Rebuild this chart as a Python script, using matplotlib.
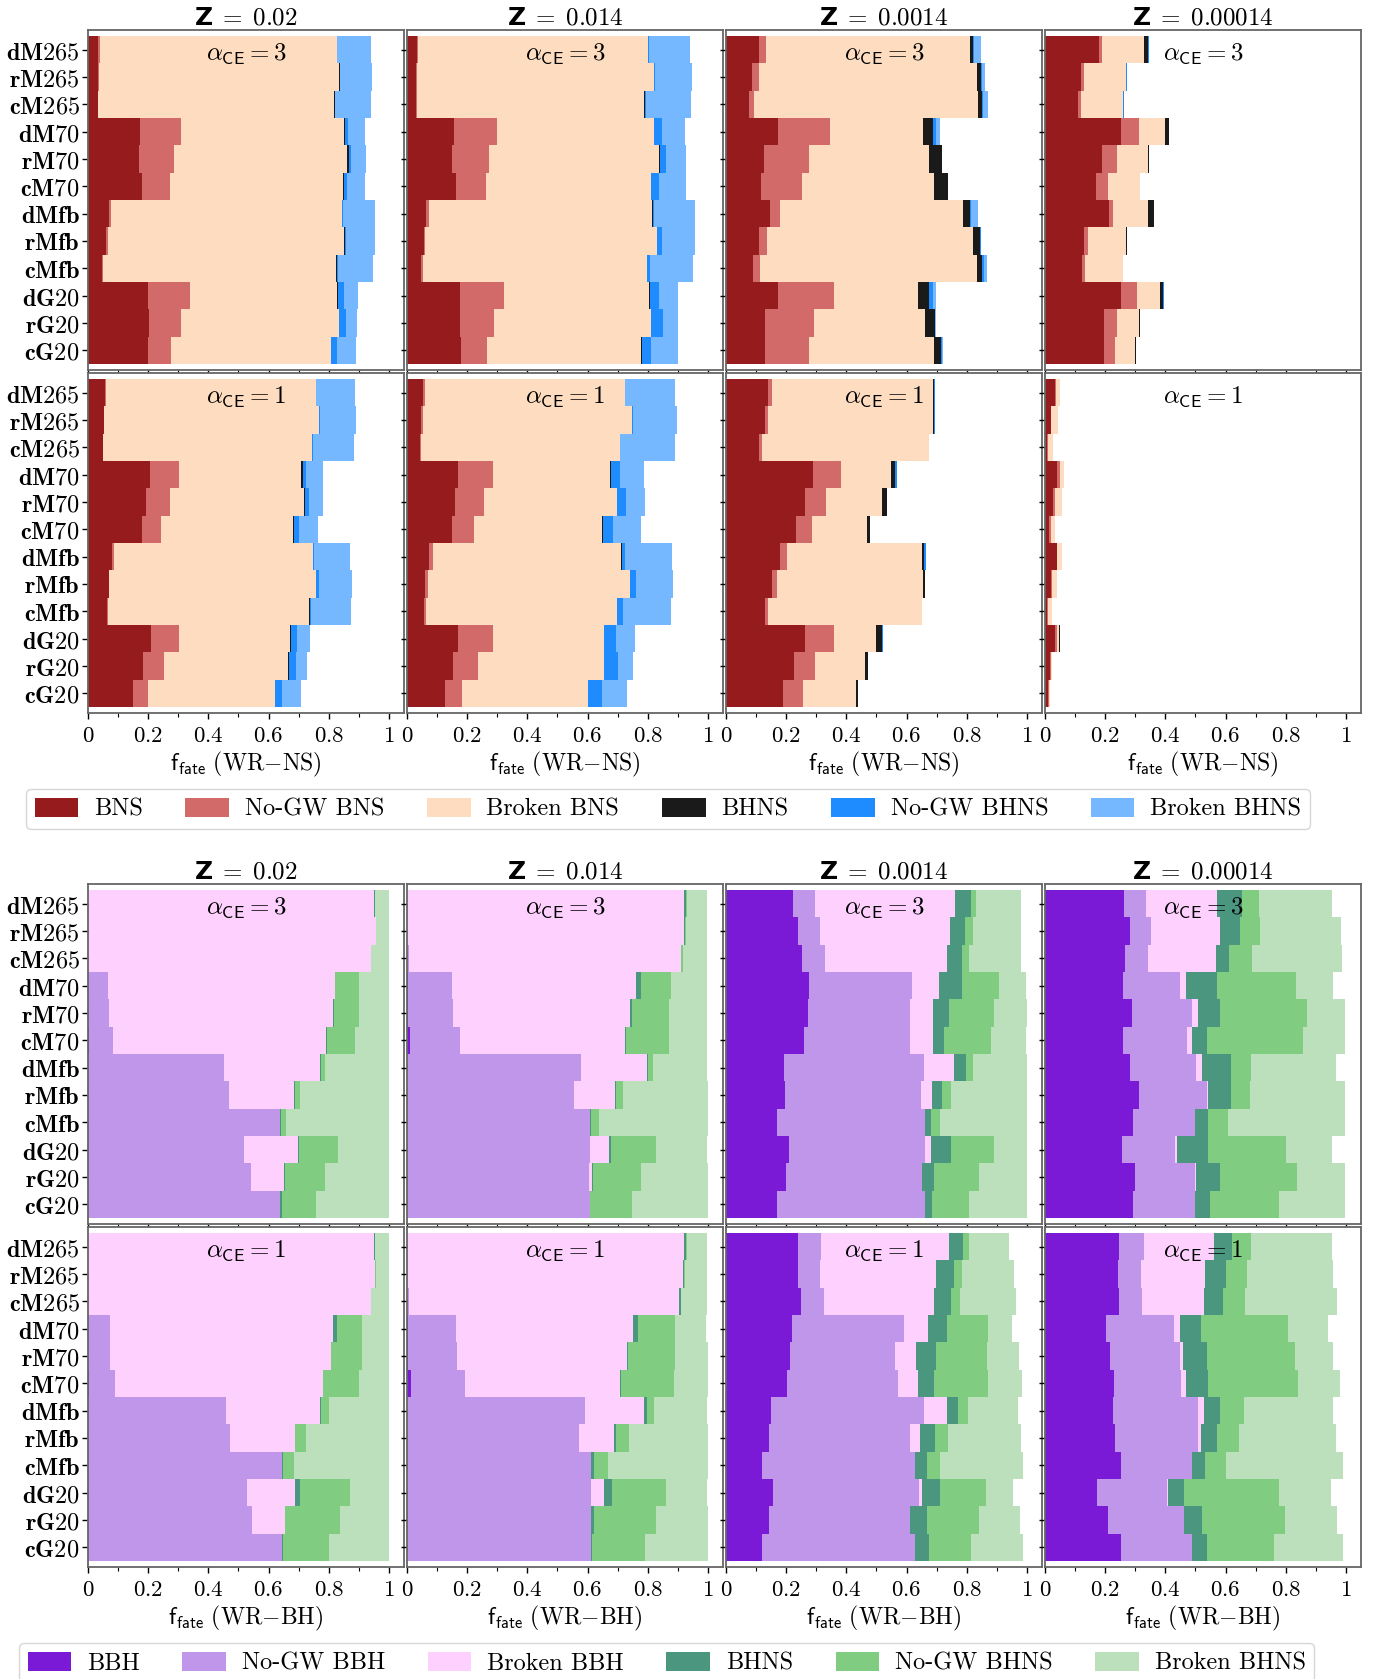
import numpy as np
import matplotlib
matplotlib.use('Agg')
import matplotlib.pyplot as plt
from matplotlib.patches import Patch

plt.rcParams['mathtext.fontset'] = 'cm'

models = ['dM265', 'rM265', 'cM265', 'dM70', 'rM70', 'cM70',
          'dMfb', 'rMfb', 'cMfb', 'dG20', 'rG20', 'cG20']
metallicities = ['0.02', '0.014', '0.0014', '0.00014']
alphas_ce = [3, 1]

ns_fates = ['BNS', 'No-GW BNS', 'Broken BNS', 'BHNS', 'No-GW BHNS', 'Broken BHNS']
bh_fates = ['BBH', 'No-GW BBH', 'Broken BBH', 'BHNS', 'No-GW BHNS', 'Broken BHNS']
ns_colors = ['#961b1c', '#d36a6a', '#fddcc0', '#1a1a1a', '#1e8cff', '#75b8ff']
bh_colors = ['#7a1ad6', '#c096eb', '#fdd0fd', '#4a967e', '#80cc80', '#bbe0bb']

# cumulative fraction of WR-NS systems up to each fate (rows follow models)
ns_z02_ce3 = [[0.033, 0.039, 0.826, 0.826, 0.826, 0.941],
              [0.033, 0.036, 0.834, 0.838, 0.839, 0.944],
              [0.032, 0.034, 0.819, 0.822, 0.822, 0.941],
              [0.172, 0.308, 0.852, 0.853, 0.864, 0.921],
              [0.169, 0.286, 0.862, 0.866, 0.874, 0.924],
              [0.179, 0.271, 0.848, 0.850, 0.861, 0.921],
              [0.070, 0.078, 0.843, 0.844, 0.846, 0.954],
              [0.060, 0.066, 0.852, 0.853, 0.856, 0.954],
              [0.047, 0.051, 0.823, 0.826, 0.830, 0.946],
              [0.199, 0.339, 0.829, 0.830, 0.849, 0.898],
              [0.202, 0.309, 0.833, 0.834, 0.856, 0.894],
              [0.199, 0.276, 0.806, 0.808, 0.829, 0.890]]
ns_z02_ce1 = [[0.057, 0.059, 0.756, 0.756, 0.757, 0.888],
              [0.052, 0.053, 0.769, 0.769, 0.770, 0.891],
              [0.049, 0.051, 0.743, 0.743, 0.747, 0.884],
              [0.206, 0.304, 0.709, 0.713, 0.723, 0.781],
              [0.192, 0.271, 0.719, 0.720, 0.733, 0.781],
              [0.179, 0.241, 0.682, 0.686, 0.702, 0.764],
              [0.079, 0.088, 0.747, 0.747, 0.750, 0.871],
              [0.069, 0.071, 0.759, 0.759, 0.767, 0.878],
              [0.062, 0.066, 0.733, 0.738, 0.742, 0.874],
              [0.209, 0.304, 0.672, 0.673, 0.696, 0.738],
              [0.182, 0.251, 0.666, 0.667, 0.692, 0.728],
              [0.150, 0.198, 0.622, 0.623, 0.645, 0.708]]
ns_z014_ce3 = [[0.033, 0.038, 0.800, 0.801, 0.803, 0.941],
               [0.031, 0.034, 0.822, 0.822, 0.823, 0.948],
               [0.030, 0.034, 0.789, 0.792, 0.793, 0.944],
               [0.156, 0.298, 0.820, 0.822, 0.846, 0.924],
               [0.149, 0.272, 0.839, 0.840, 0.862, 0.928],
               [0.163, 0.262, 0.812, 0.812, 0.839, 0.928],
               [0.063, 0.074, 0.813, 0.816, 0.821, 0.956],
               [0.056, 0.061, 0.832, 0.832, 0.846, 0.958],
               [0.047, 0.052, 0.796, 0.797, 0.809, 0.949],
               [0.176, 0.322, 0.803, 0.806, 0.836, 0.902],
               [0.176, 0.289, 0.812, 0.812, 0.852, 0.902],
               [0.179, 0.266, 0.779, 0.781, 0.812, 0.900]]
ns_z014_ce1 = [[0.053, 0.059, 0.723, 0.723, 0.724, 0.892],
               [0.047, 0.052, 0.749, 0.749, 0.750, 0.898],
               [0.042, 0.048, 0.707, 0.708, 0.709, 0.889],
               [0.169, 0.286, 0.673, 0.677, 0.707, 0.789],
               [0.160, 0.256, 0.697, 0.697, 0.727, 0.792],
               [0.150, 0.222, 0.647, 0.650, 0.686, 0.776],
               [0.073, 0.086, 0.712, 0.716, 0.726, 0.879],
               [0.060, 0.069, 0.740, 0.742, 0.760, 0.884],
               [0.057, 0.062, 0.697, 0.699, 0.719, 0.878],
               [0.169, 0.286, 0.653, 0.653, 0.693, 0.758],
               [0.152, 0.236, 0.656, 0.656, 0.702, 0.751],
               [0.126, 0.184, 0.600, 0.602, 0.647, 0.731]]
ns_z0014_ce3 = [[0.111, 0.133, 0.811, 0.821, 0.824, 0.847],
                [0.088, 0.110, 0.833, 0.847, 0.849, 0.860],
                [0.078, 0.093, 0.837, 0.850, 0.853, 0.869],
                [0.174, 0.347, 0.653, 0.687, 0.697, 0.710],
                [0.127, 0.277, 0.673, 0.717, 0.719, 0.719],
                [0.117, 0.253, 0.690, 0.736, 0.739, 0.739],
                [0.147, 0.180, 0.787, 0.810, 0.813, 0.836],
                [0.108, 0.137, 0.820, 0.843, 0.846, 0.848],
                [0.091, 0.113, 0.833, 0.852, 0.858, 0.866],
                [0.174, 0.360, 0.637, 0.673, 0.687, 0.698],
                [0.130, 0.293, 0.660, 0.693, 0.694, 0.697],
                [0.130, 0.277, 0.690, 0.713, 0.717, 0.722]]
ns_z0014_ce1 = [[0.141, 0.154, 0.688, 0.692, 0.694, 0.694],
                [0.128, 0.140, 0.688, 0.692, 0.694, 0.694],
                [0.108, 0.120, 0.673, 0.676, 0.676, 0.676],
                [0.288, 0.383, 0.548, 0.563, 0.568, 0.568],
                [0.264, 0.333, 0.518, 0.536, 0.536, 0.536],
                [0.231, 0.287, 0.467, 0.477, 0.477, 0.477],
                [0.181, 0.203, 0.651, 0.659, 0.666, 0.666],
                [0.154, 0.170, 0.653, 0.662, 0.662, 0.662],
                [0.128, 0.140, 0.650, 0.652, 0.652, 0.652],
                [0.261, 0.358, 0.500, 0.518, 0.523, 0.523],
                [0.227, 0.297, 0.463, 0.472, 0.472, 0.472],
                [0.190, 0.257, 0.433, 0.437, 0.437, 0.437]]
ns_z00014_ce3 = [[0.181, 0.190, 0.330, 0.343, 0.347, 0.347],
                 [0.121, 0.128, 0.270, 0.270, 0.272, 0.272],
                 [0.111, 0.120, 0.260, 0.260, 0.262, 0.262],
                 [0.251, 0.313, 0.400, 0.412, 0.412, 0.412],
                 [0.191, 0.240, 0.343, 0.347, 0.347, 0.347],
                 [0.171, 0.210, 0.317, 0.317, 0.317, 0.317],
                 [0.211, 0.227, 0.343, 0.363, 0.363, 0.363],
                 [0.131, 0.143, 0.268, 0.271, 0.271, 0.271],
                 [0.124, 0.133, 0.260, 0.260, 0.260, 0.260],
                 [0.251, 0.307, 0.383, 0.393, 0.396, 0.396],
                 [0.197, 0.240, 0.313, 0.316, 0.316, 0.316],
                 [0.197, 0.234, 0.300, 0.301, 0.301, 0.301]]
ns_z00014_ce1 = [[0.033, 0.037, 0.050, 0.050, 0.050, 0.050],
                 [0.020, 0.021, 0.043, 0.043, 0.043, 0.043],
                 [0.008, 0.010, 0.027, 0.027, 0.027, 0.027],
                 [0.040, 0.050, 0.063, 0.063, 0.063, 0.063],
                 [0.028, 0.033, 0.057, 0.057, 0.057, 0.057],
                 [0.014, 0.020, 0.033, 0.033, 0.033, 0.033],
                 [0.040, 0.041, 0.057, 0.057, 0.057, 0.057],
                 [0.020, 0.023, 0.040, 0.040, 0.040, 0.040],
                 [0.008, 0.010, 0.023, 0.023, 0.023, 0.023],
                 [0.033, 0.040, 0.048, 0.049, 0.049, 0.050],
                 [0.017, 0.020, 0.023, 0.023, 0.023, 0.023],
                 [0.010, 0.013, 0.018, 0.018, 0.018, 0.018]]

# cumulative fraction of WR-BH systems up to each fate
bh_z02_ce3 = [[0.000, 0.000, 0.950, 0.952, 0.953, 0.999],
              [0.000, 0.000, 0.956, 0.956, 0.957, 0.999],
              [0.000, 0.000, 0.939, 0.940, 0.942, 0.999],
              [0.001, 0.066, 0.820, 0.822, 0.899, 0.999],
              [0.001, 0.069, 0.813, 0.816, 0.899, 0.999],
              [0.003, 0.082, 0.792, 0.793, 0.886, 0.999],
              [0.000, 0.452, 0.772, 0.773, 0.789, 0.999],
              [0.000, 0.469, 0.686, 0.687, 0.706, 0.999],
              [0.000, 0.639, 0.639, 0.640, 0.659, 0.999],
              [0.000, 0.519, 0.699, 0.701, 0.831, 0.999],
              [0.000, 0.542, 0.652, 0.654, 0.789, 0.999],
              [0.000, 0.639, 0.639, 0.643, 0.756, 0.999]]
bh_z02_ce1 = [[0.000, 0.000, 0.950, 0.952, 0.953, 0.999],
              [0.000, 0.000, 0.953, 0.954, 0.956, 0.999],
              [0.000, 0.000, 0.940, 0.941, 0.942, 0.999],
              [0.001, 0.072, 0.813, 0.826, 0.912, 0.999],
              [0.001, 0.072, 0.806, 0.807, 0.912, 0.999],
              [0.003, 0.089, 0.780, 0.782, 0.899, 0.999],
              [0.000, 0.459, 0.770, 0.774, 0.802, 0.999],
              [0.000, 0.472, 0.687, 0.689, 0.726, 0.999],
              [0.000, 0.643, 0.643, 0.647, 0.686, 1.000],
              [0.000, 0.529, 0.689, 0.706, 0.869, 0.999],
              [0.000, 0.546, 0.653, 0.656, 0.836, 1.000],
              [0.000, 0.643, 0.643, 0.647, 0.802, 1.000]]
bh_z014_ce3 = [[0.000, 0.000, 0.922, 0.927, 0.929, 0.998],
               [0.000, 0.000, 0.922, 0.923, 0.928, 0.998],
               [0.000, 0.007, 0.909, 0.911, 0.916, 0.998],
               [0.002, 0.149, 0.762, 0.776, 0.878, 0.998],
               [0.002, 0.152, 0.742, 0.746, 0.872, 0.998],
               [0.009, 0.176, 0.723, 0.727, 0.869, 0.998],
               [0.000, 0.579, 0.796, 0.801, 0.816, 0.998],
               [0.000, 0.556, 0.690, 0.696, 0.718, 1.000],
               [0.000, 0.607, 0.607, 0.610, 0.639, 1.000],
               [0.000, 0.609, 0.670, 0.679, 0.826, 0.998],
               [0.000, 0.604, 0.616, 0.618, 0.779, 1.000],
               [0.000, 0.607, 0.607, 0.609, 0.746, 1.000]]
bh_z014_ce1 = [[0.000, 0.000, 0.920, 0.926, 0.929, 0.998],
               [0.000, 0.000, 0.916, 0.920, 0.923, 0.998],
               [0.000, 0.007, 0.903, 0.909, 0.912, 0.998],
               [0.003, 0.162, 0.750, 0.769, 0.892, 0.994],
               [0.003, 0.166, 0.731, 0.733, 0.892, 1.000],
               [0.012, 0.194, 0.707, 0.710, 0.886, 1.000],
               [0.000, 0.592, 0.786, 0.796, 0.822, 0.998],
               [0.000, 0.572, 0.687, 0.696, 0.739, 1.000],
               [0.000, 0.610, 0.610, 0.620, 0.669, 1.000],
               [0.000, 0.612, 0.656, 0.680, 0.859, 0.998],
               [0.000, 0.611, 0.613, 0.620, 0.826, 1.000],
               [0.000, 0.611, 0.611, 0.616, 0.792, 1.000]]
bh_z0014_ce3 = [[0.224, 0.297, 0.760, 0.813, 0.830, 0.980],
                [0.238, 0.311, 0.744, 0.794, 0.820, 0.980],
                [0.254, 0.330, 0.734, 0.783, 0.807, 0.980],
                [0.277, 0.617, 0.707, 0.783, 0.907, 0.997],
                [0.273, 0.610, 0.687, 0.740, 0.890, 1.000],
                [0.260, 0.613, 0.687, 0.723, 0.880, 0.997],
                [0.193, 0.657, 0.757, 0.797, 0.820, 1.000],
                [0.197, 0.647, 0.683, 0.717, 0.747, 1.000],
                [0.170, 0.660, 0.660, 0.680, 0.710, 1.000],
                [0.210, 0.660, 0.680, 0.747, 0.890, 1.000],
                [0.200, 0.650, 0.650, 0.690, 0.840, 1.000],
                [0.170, 0.660, 0.660, 0.683, 0.807, 1.000]]
bh_z0014_ce1 = [[0.238, 0.317, 0.740, 0.787, 0.807, 0.940],
                [0.238, 0.313, 0.697, 0.757, 0.783, 0.957],
                [0.250, 0.327, 0.690, 0.747, 0.777, 0.963],
                [0.220, 0.590, 0.670, 0.733, 0.870, 0.950],
                [0.213, 0.560, 0.630, 0.697, 0.867, 0.973],
                [0.203, 0.573, 0.637, 0.690, 0.870, 0.983],
                [0.150, 0.657, 0.733, 0.770, 0.803, 0.970],
                [0.143, 0.610, 0.643, 0.693, 0.737, 0.980],
                [0.120, 0.627, 0.627, 0.667, 0.710, 0.987],
                [0.157, 0.640, 0.650, 0.710, 0.863, 0.953],
                [0.143, 0.610, 0.610, 0.667, 0.840, 0.977],
                [0.120, 0.627, 0.627, 0.673, 0.813, 0.987]]
bh_z00014_ce3 = [[0.263, 0.337, 0.573, 0.653, 0.710, 0.953],
                 [0.283, 0.353, 0.580, 0.647, 0.713, 0.983],
                 [0.267, 0.343, 0.567, 0.613, 0.687, 0.987],
                 [0.260, 0.450, 0.467, 0.573, 0.833, 0.957],
                 [0.290, 0.490, 0.507, 0.580, 0.870, 0.997],
                 [0.260, 0.473, 0.487, 0.537, 0.857, 0.997],
                 [0.283, 0.503, 0.523, 0.617, 0.683, 0.967],
                 [0.313, 0.537, 0.543, 0.617, 0.680, 0.997],
                 [0.293, 0.500, 0.500, 0.543, 0.607, 0.997],
                 [0.257, 0.433, 0.437, 0.543, 0.800, 0.953],
                 [0.300, 0.500, 0.503, 0.583, 0.837, 0.997],
                 [0.293, 0.500, 0.500, 0.547, 0.777, 0.997]]
bh_z00014_ce1 = [[0.247, 0.330, 0.560, 0.620, 0.683, 0.953],
                 [0.243, 0.320, 0.533, 0.603, 0.670, 0.957],
                 [0.247, 0.323, 0.527, 0.593, 0.663, 0.970],
                 [0.203, 0.430, 0.450, 0.517, 0.807, 0.940],
                 [0.217, 0.447, 0.460, 0.537, 0.830, 0.957],
                 [0.230, 0.453, 0.467, 0.540, 0.840, 0.980],
                 [0.227, 0.507, 0.527, 0.583, 0.660, 0.957],
                 [0.233, 0.510, 0.517, 0.573, 0.643, 0.967],
                 [0.253, 0.487, 0.487, 0.533, 0.600, 0.990],
                 [0.173, 0.407, 0.410, 0.463, 0.777, 0.950],
                 [0.210, 0.463, 0.463, 0.523, 0.797, 0.970],
                 [0.253, 0.487, 0.487, 0.537, 0.760, 0.990]]

ns_panels = [[ns_z02_ce3, ns_z014_ce3, ns_z0014_ce3, ns_z00014_ce3],
             [ns_z02_ce1, ns_z014_ce1, ns_z0014_ce1, ns_z00014_ce1]]
bh_panels = [[bh_z02_ce3, bh_z014_ce3, bh_z0014_ce3, bh_z00014_ce3],
             [bh_z02_ce1, bh_z014_ce1, bh_z0014_ce1, bh_z00014_ce1]]

W, H = 1379, 1679
fig = plt.figure(figsize=(W / 100, H / 100), dpi=100)

col_left = [88, 407, 726, 1045]
ax_w, ax_h = 316, 340


def add_ax(x0, y0):
    # pixel box -> figure fraction
    return fig.add_axes([x0 / W, 1 - (y0 + ax_h) / H, ax_w / W, ax_h / H])


def draw_panel(ax, edges, colors, alpha_ce, first_col, bottom_row, xname, title=None):
    edges = np.asarray(edges)
    y = np.arange(len(models))
    left = np.zeros(len(models))
    for k, c in enumerate(colors):
        ax.barh(y, edges[:, k] - left, left=left, height=1.0, color=c, lw=0)
        left = edges[:, k]

    ax.set_xlim(0, 1.05)
    ax.set_ylim(11.72, -0.72)
    ax.set_yticks(y)
    if first_col:
        ax.set_yticklabels([r'$\mathbf{%s}$' % m for m in models], fontsize=17.5)
    else:
        ax.set_yticklabels([])
    ax.set_xticks([0, 0.2, 0.4, 0.6, 0.8, 1.0])
    ax.set_xticks(np.arange(0.1, 1.01, 0.1), minor=True)
    if bottom_row:
        ax.set_xticklabels(['$0$', '$0.2$', '$0.4$', '$0.6$', '$0.8$', '$1$'], fontsize=16.5)
        ax.set_xlabel(r'$\mathsf{f}_{\mathsf{fate}}\ \mathrm{(WR{-}%s)}$' % xname,
                      fontsize=17, labelpad=2)
    else:
        ax.set_xticklabels([])
    ax.tick_params(axis='both', which='major', length=4.5, width=1.0)
    ax.tick_params(axis='y', which='major', pad=1.5)
    ax.tick_params(axis='x', which='minor', length=3, width=0.8)
    for s in ax.spines.values():
        s.set_color('0.4')
        s.set_linewidth(1.3)

    ax.text(0.5, 0.965, r'$\alpha_{\mathsf{CE}} = %d$' % alpha_ce, transform=ax.transAxes,
            ha='center', va='top', fontsize=18)
    if title is not None:
        ax.set_title(title, fontsize=18, fontweight='bold', pad=4)


def draw_group(panels, colors, row_tops, xname):
    for r, top in enumerate(row_tops):
        for c, x0 in enumerate(col_left):
            ax = add_ax(x0, top)
            title = (r'Z$\;\mathbf{=\;%s}$' % metallicities[c]) if r == 0 else None
            draw_panel(ax, panels[r][c], colors, alphas_ce[r], c == 0, r == 1, xname, title)


draw_group(ns_panels, ns_colors, [30, 373], 'NS')
draw_group(bh_panels, bh_colors, [884, 1227], 'BH')

leg_kw = dict(ncol=6, loc='upper left', prop={'family': 'cmr10', 'size': 17.5},
              handlelength=1.8, handleheight=0.85, handletextpad=0.65,
              columnspacing=1.75, borderaxespad=0, borderpad=0.35,
              frameon=True, edgecolor='0.8')

fig.legend([Patch(facecolor=c) for c in ns_colors], ns_fates,
           bbox_to_anchor=(26 / W, 1 - 789 / H), **leg_kw)
fig.legend([Patch(facecolor=c) for c in bh_colors], bh_fates,
           bbox_to_anchor=(19 / W, 1 - 1643 / H), **leg_kw)

fig.savefig('out.png', dpi=100)
